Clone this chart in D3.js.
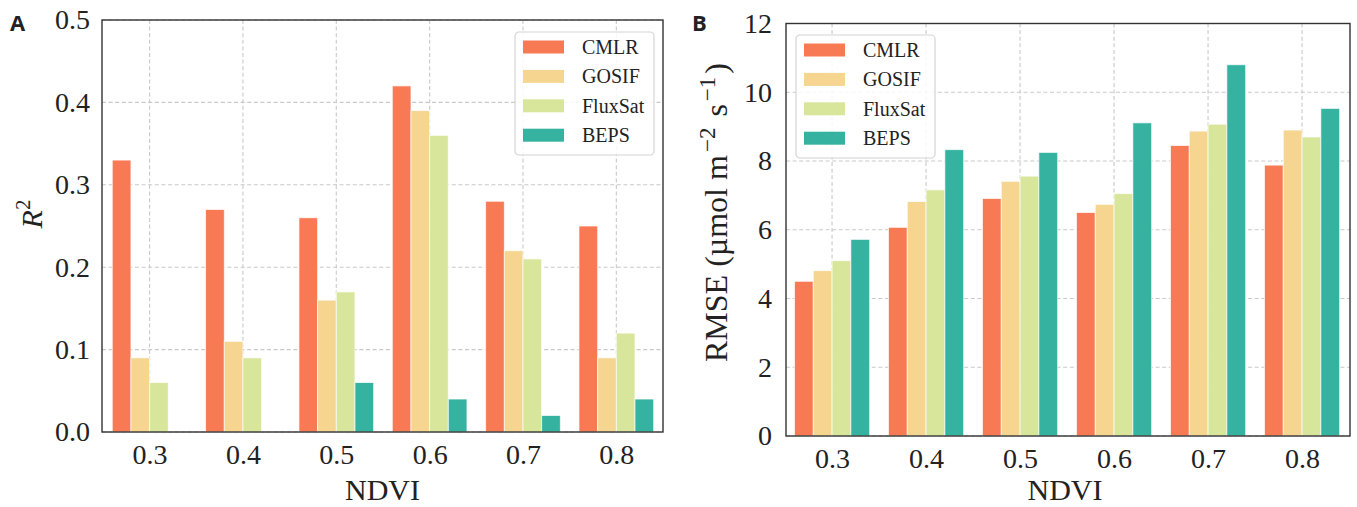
<!DOCTYPE html>
<html>
<head>
<meta charset="utf-8">
<script src="https://cdn.jsdelivr.net/npm/d3@7/dist/d3.min.js"></script>
<style>
  html, body { margin: 0; padding: 0; background: #fff; }
  svg { display: block; }
  text { font-family: "Liberation Serif", "Times New Roman", serif; fill: #222; }
</style>
</head>
<body>
<svg id="chart" width="1357" height="507"></svg>
<script>
// ---- data ----
const categories = ["0.3", "0.4", "0.5", "0.6", "0.7", "0.8"];
const seriesNames = ["CMLR", "GOSIF", "FluxSat", "BEPS"];
const seriesColors = ["#F77A55", "#F6D591", "#D8E69C", "#35B3A0"];

const r2CMLR    = [0.33, 0.27, 0.26, 0.42, 0.28, 0.25];
const r2GOSIF   = [0.09, 0.11, 0.16, 0.39, 0.22, 0.09];
const r2FluxSat = [0.06, 0.09, 0.17, 0.36, 0.21, 0.12];
const r2BEPS    = [0.00, 0.00, 0.06, 0.04, 0.02, 0.04];

const rmseCMLR    = [4.50, 6.07, 6.91, 6.50, 8.45, 7.88];
const rmseGOSIF   = [4.81, 6.82, 7.41, 6.74, 8.87, 8.90];
const rmseFluxSat = [5.10, 7.16, 7.56, 7.05, 9.07, 8.70];
const rmseBEPS    = [5.72, 8.33, 8.25, 9.11, 10.80, 9.53];

const r2Ticks   = ["0.0", "0.1", "0.2", "0.3", "0.4", "0.5"];
const rmseTicks = ["0", "2", "4", "6", "8", "10", "12"];

// ---- drawing ----
const svg = d3.select("#chart");
const barW = 0.2;
const SERIF = '"Liberation Serif", "Times New Roman", serif';

function panel(cfg) {
  const g = svg.append("g");
  const x = d3.scaleLinear().domain(cfg.xDomain).range([cfg.left, cfg.right]);
  const y = d3.scaleLinear().domain(cfg.yDomain).range([cfg.bottom, cfg.top]);

  // grid
  const tickVals = cfg.ticks.map(Number);
  g.append("g").selectAll("line.hg").data(tickVals).join("line")
    .attr("x1", cfg.left).attr("x2", cfg.right)
    .attr("y1", d => y(d)).attr("y2", d => y(d))
    .attr("stroke", "#c9c9c9").attr("stroke-width", 1.1).attr("stroke-dasharray", "4,2.6");
  g.append("g").selectAll("line.vg").data(categories.map((c, i) => i)).join("line")
    .attr("x1", d => x(d)).attr("x2", d => x(d))
    .attr("y1", cfg.top).attr("y2", cfg.bottom)
    .attr("stroke", "#c9c9c9").attr("stroke-width", 1.1).attr("stroke-dasharray", "4,2.6");

  // bars
  cfg.series.forEach((vals, s) => {
    g.append("g").selectAll("rect").data(vals).join("rect")
      .attr("x", (d, i) => x(i + (s - 2) * barW))
      .attr("width", x(barW) - x(0))
      .attr("y", d => y(d))
      .attr("height", d => y(0) - y(d))
      .attr("fill", seriesColors[s])
      .attr("stroke", d => d > 0 ? "#ffffff" : "none")
      .attr("stroke-opacity", 0.75)
      .attr("stroke-width", 0.9);
  });

  // frame
  g.append("rect")
    .attr("x", cfg.left).attr("y", cfg.top)
    .attr("width", cfg.right - cfg.left).attr("height", cfg.bottom - cfg.top)
    .attr("fill", "none").attr("stroke", "#333").attr("stroke-width", 1.4);

  // y axis (labels only)
  const yAxis = d3.axisLeft(y).tickValues(tickVals).tickFormat((d, i) => cfg.ticks[i])
    .tickSize(0).tickPadding(cfg.yPad);
  const ya = g.append("g").attr("transform", `translate(${cfg.left},0)`).call(yAxis)
    .attr("font-family", SERIF);
  ya.select(".domain").remove();
  ya.selectAll("text").style("font-family", SERIF)
    .style("font-size", "28px").attr("fill", "#222");

  // x axis
  const xAxis = d3.axisBottom(x).tickValues(categories.map((c, i) => i))
    .tickFormat((d) => categories[d]).tickSize(0).tickPadding(12);
  const xa = g.append("g").attr("transform", `translate(0,${cfg.bottom})`).call(xAxis)
    .attr("font-family", SERIF);
  xa.select(".domain").remove();
  xa.selectAll("text").style("font-family", SERIF)
    .style("font-size", "28px").attr("fill", "#222");

  // x title
  g.append("text").attr("x", (cfg.left + cfg.right) / 2 + cfg.xTitleDx).attr("y", 500)
    .attr("text-anchor", "middle").style("font-size", "30px").text("NDVI");

  // legend
  const lg = g.append("g").attr("transform", `translate(${cfg.legX},${cfg.legY})`);
  lg.append("rect").attr("x", 0).attr("y", 0).attr("width", 139).attr("height", 123)
    .attr("rx", 4).attr("fill", "#fff").attr("fill-opacity", 0.85)
    .attr("stroke", "#d4d4d4").attr("stroke-width", 1.2);
  seriesNames.forEach((n, i) => {
    const cy = 15 + i * 29.4;
    lg.append("rect").attr("x", 8).attr("y", cy - 6.5).attr("width", 41).attr("height", 13)
      .attr("fill", seriesColors[i]);
    lg.append("text").attr("x", 67).attr("y", cy + 7).style("font-size", "20px").text(n);
  });
  return { g, x, y };
}

const pA = panel({
  left: 102, right: 663, top: 20, bottom: 432,
  xDomain: [-0.51, 5.5], yDomain: [0, 0.5],
  ticks: r2Ticks, yPad: 12, xTitleDx: 0,
  series: [r2CMLR, r2GOSIF, r2FluxSat, r2BEPS],
  legX: 515, legY: 32
});

const pB = panel({
  left: 786, right: 1350, top: 23.5, bottom: 436,
  xDomain: [-0.49, 5.51], yDomain: [0, 12],
  ticks: rmseTicks, yPad: 14, xTitleDx: -3,
  series: [rmseCMLR, rmseGOSIF, rmseFluxSat, rmseBEPS],
  legX: 796, legY: 35
});

// y titles
const tA = svg.append("text").attr("transform", "translate(42,214) rotate(-90)")
  .attr("text-anchor", "middle").style("font-size", "30px");
tA.append("tspan").style("font-style", "italic").text("R");
tA.append("tspan").attr("dy", "-12").style("font-size", "21px").text("2");

const tB = svg.append("text").attr("transform", "translate(727,362) rotate(-90)")
  .attr("text-anchor", "start").style("font-size", "32px");
tB.append("tspan").text("RMSE (µmol m");
tB.append("tspan").attr("dx", "3").attr("dy", "-12").style("font-size", "23px").text("−2");
tB.append("tspan").attr("dx", "3").attr("dy", "12").text(" s");
tB.append("tspan").attr("dx", "3").attr("dy", "-12").style("font-size", "23px").text("−1");
tB.append("tspan").attr("dx", "3").attr("dy", "12").text(")");

// panel letters
svg.append("text").attr("x", 10).attr("y", 31).style("font-family", '"Open Sans", "DejaVu Sans", sans-serif')
  .style("font-weight", "bold").style("font-size", "22px").attr("fill", "#000").text("A");
svg.append("text").attr("x", 692).attr("y", 31).style("font-family", '"Open Sans", "DejaVu Sans", sans-serif')
  .style("font-weight", "bold").style("font-size", "22px").attr("fill", "#000").text("B");
</script>
</body>
</html>
